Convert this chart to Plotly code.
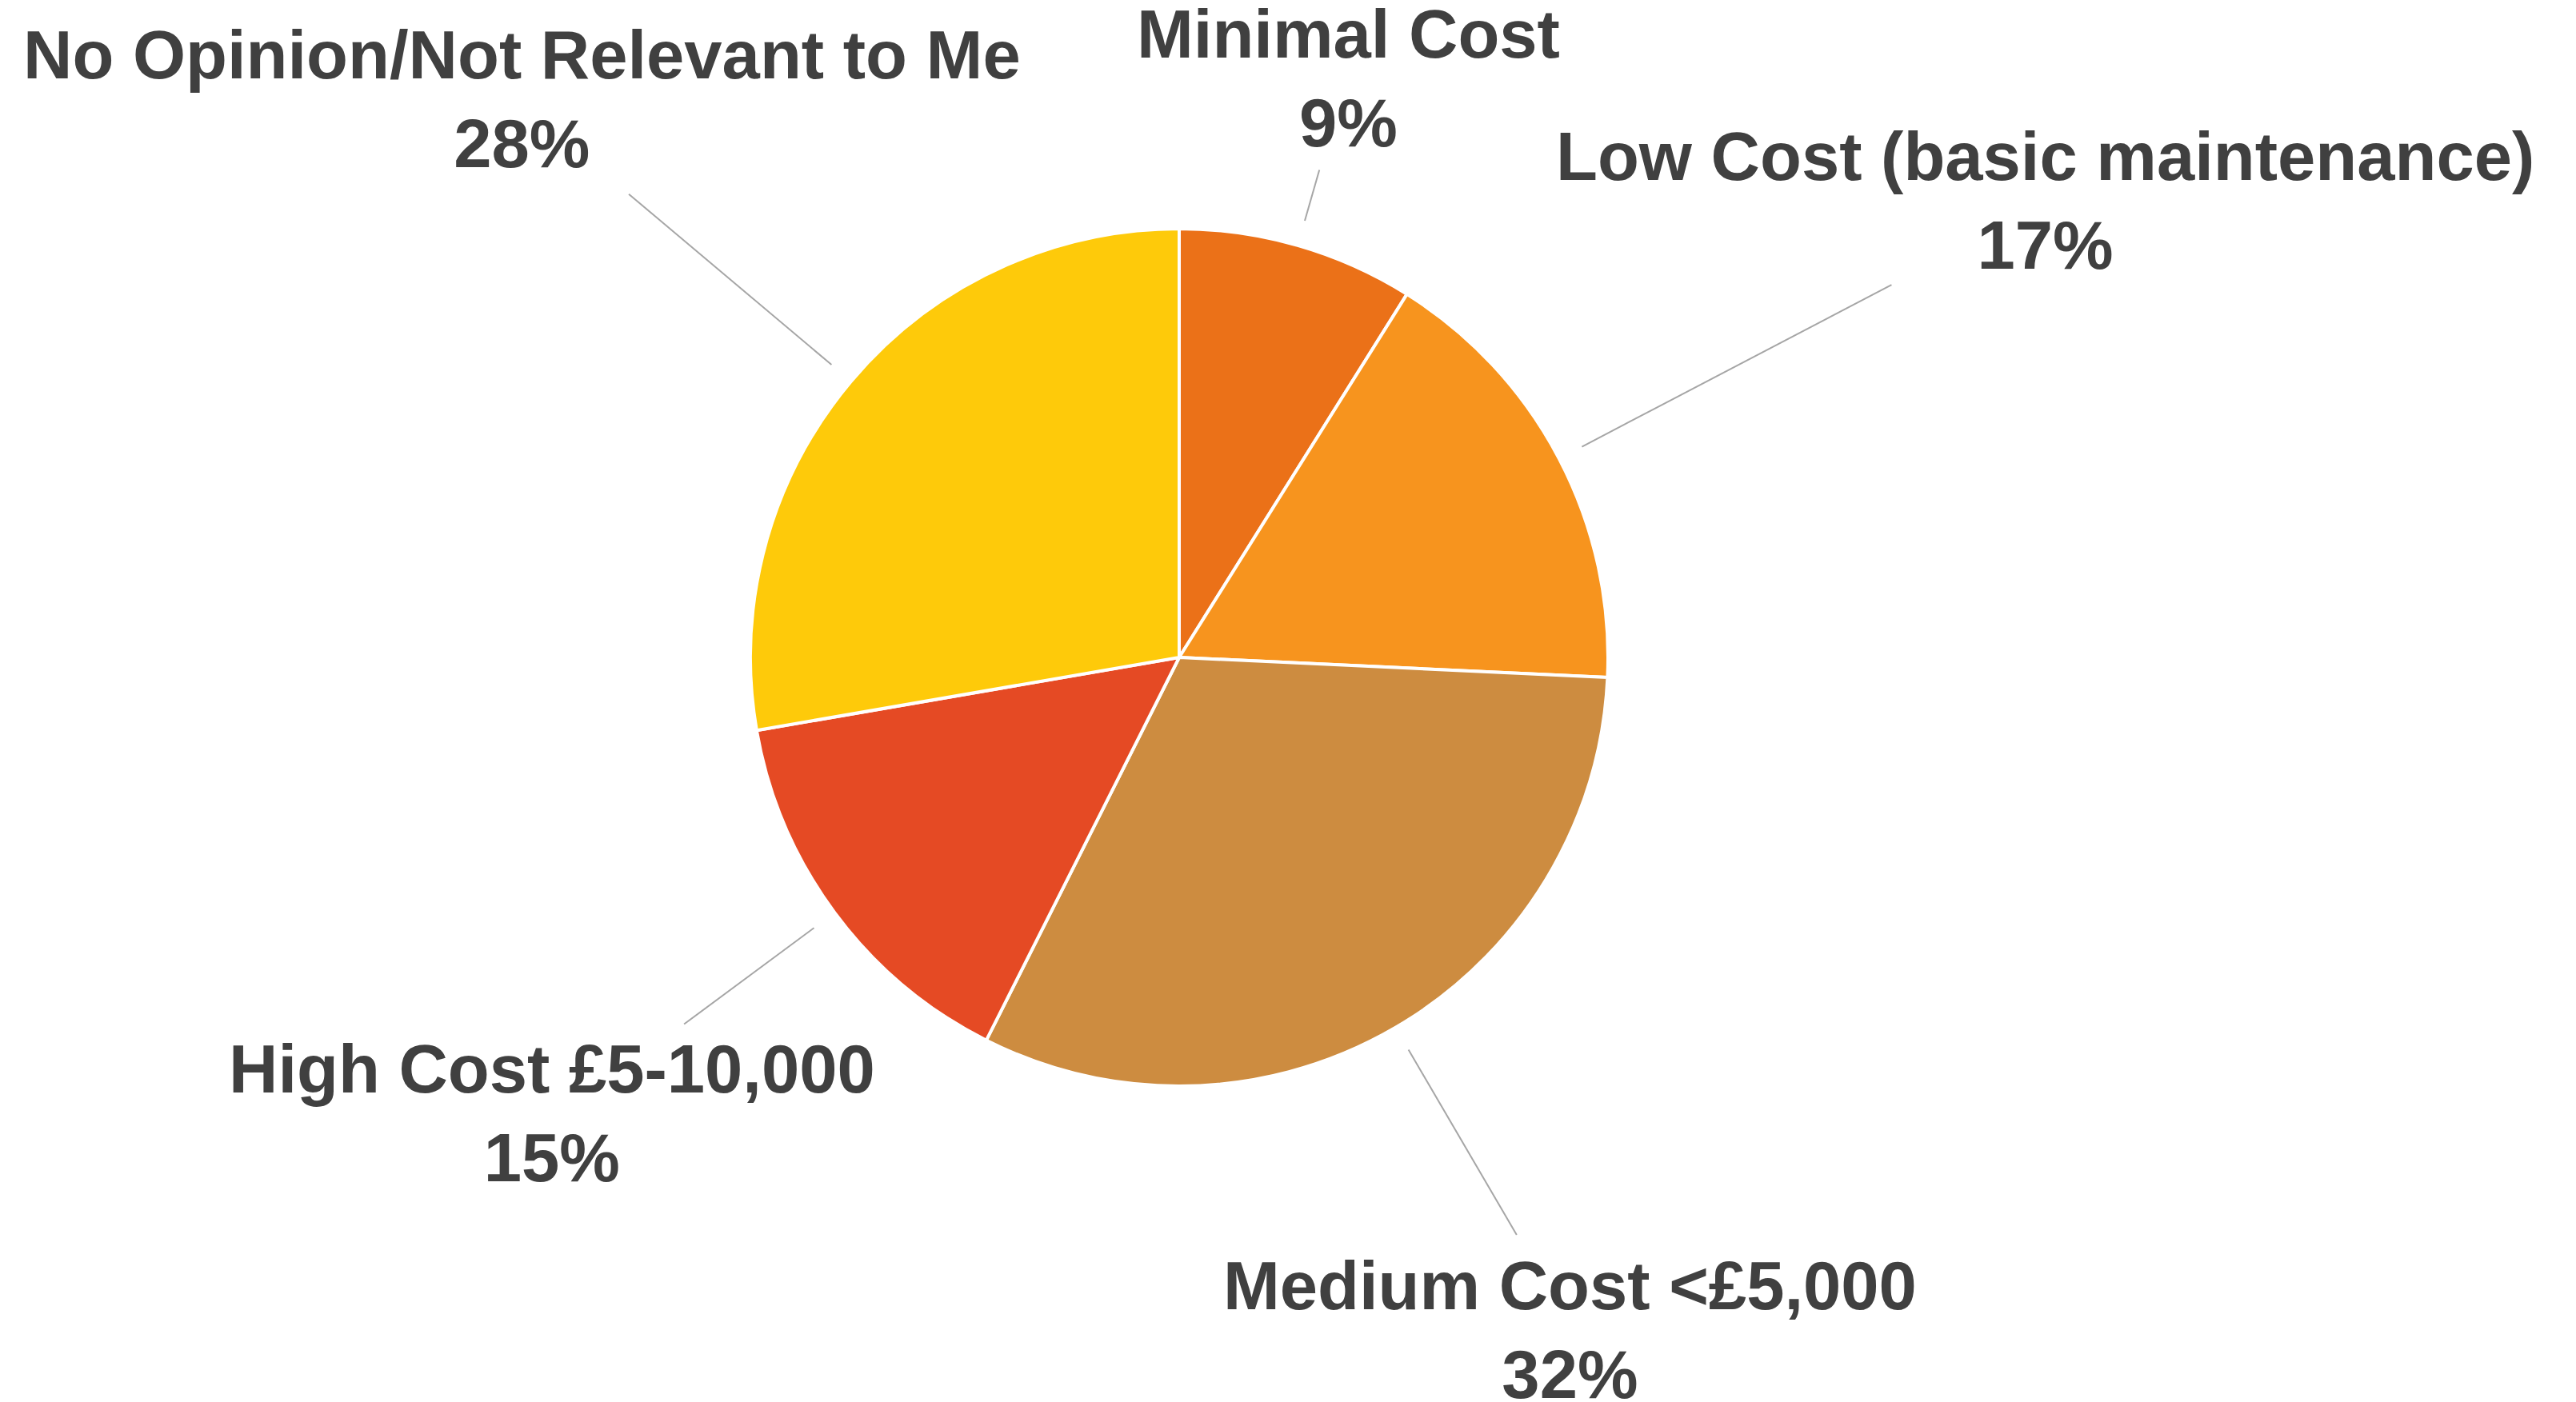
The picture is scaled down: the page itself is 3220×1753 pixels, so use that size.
import math
import plotly.graph_objects as go

# ---- data ----
categories = [
    "Minimal Cost",
    "Low Cost (basic maintenance)",
    "Medium Cost <£5,000",
    "High Cost £5-10,000",
    "No Opinion/Not Relevant to Me",
]
percent_values = [9, 17, 32, 15, 28]
slice_colors = ["#EB7118", "#F7941E", "#CD8C40", "#E54A24", "#FECA0A"]

# ---- layout / style settings ----
W, H = 3220, 1753
CX, CY, R = 1466, 814, 536          # pie centre and radius in px
leader_start = 1.06                  # leader line inner end (in radii)
leader_reach = [1.183, 1.875, 1.56, 1.437, 1.678]   # outer end (in radii)
label_centres = [(1677, 90), (2548, 243), (1954, 1655), (682, 1384), (644, 116)]
TEXT_COLOR = "#404040"
FONT = "Liberation Sans, Arial, sans-serif"
FONT_SIZE = 85


def px_to_paper(x, y):
    return x / W, 1 - y / H


fig = go.Figure(
    go.Pie(
        labels=categories,
        values=percent_values,
        sort=False,
        direction="clockwise",
        rotation=0,
        marker=dict(colors=slice_colors, line=dict(color="white", width=4)),
        textinfo="none",
        hoverinfo="label+percent",
        showlegend=False,
        domain=dict(
            x=[(CX - R) / W, (CX + R) / W],
            y=[1 - (CY + R) / H, 1 - (CY - R) / H],
        ),
    )
)

total = sum(percent_values)
cum = 0
shapes = []
annotations = []
for cat, val, reach, (lx, ly) in zip(categories, percent_values, leader_reach, label_centres):
    mid = (cum + val / 2) / total * 2 * math.pi
    cum += val
    r0, r1 = leader_start * R, reach * R
    x0, y0 = px_to_paper(CX + r0 * math.sin(mid), CY - r0 * math.cos(mid))
    x1, y1 = px_to_paper(CX + r1 * math.sin(mid), CY - r1 * math.cos(mid))
    shapes.append(dict(type="line", xref="paper", yref="paper",
                       x0=x0, y0=y0, x1=x1, y1=y1,
                       line=dict(color="#A6A6A6", width=2)))
    ax, ay = px_to_paper(lx, ly)
    annotations.append(dict(
        text=f"<b>{cat}</b><br><b>{val}%</b>",
        x=ax, y=ay, xref="paper", yref="paper",
        xanchor="center", yanchor="middle", align="center",
        showarrow=False,
        font=dict(family=FONT, size=FONT_SIZE, color=TEXT_COLOR),
    ))

fig.update_layout(
    width=W, height=H,
    margin=dict(l=0, r=0, t=0, b=0),
    paper_bgcolor="white",
    plot_bgcolor="white",
    shapes=shapes,
    annotations=annotations,
)

fig.write_html("out.html")
